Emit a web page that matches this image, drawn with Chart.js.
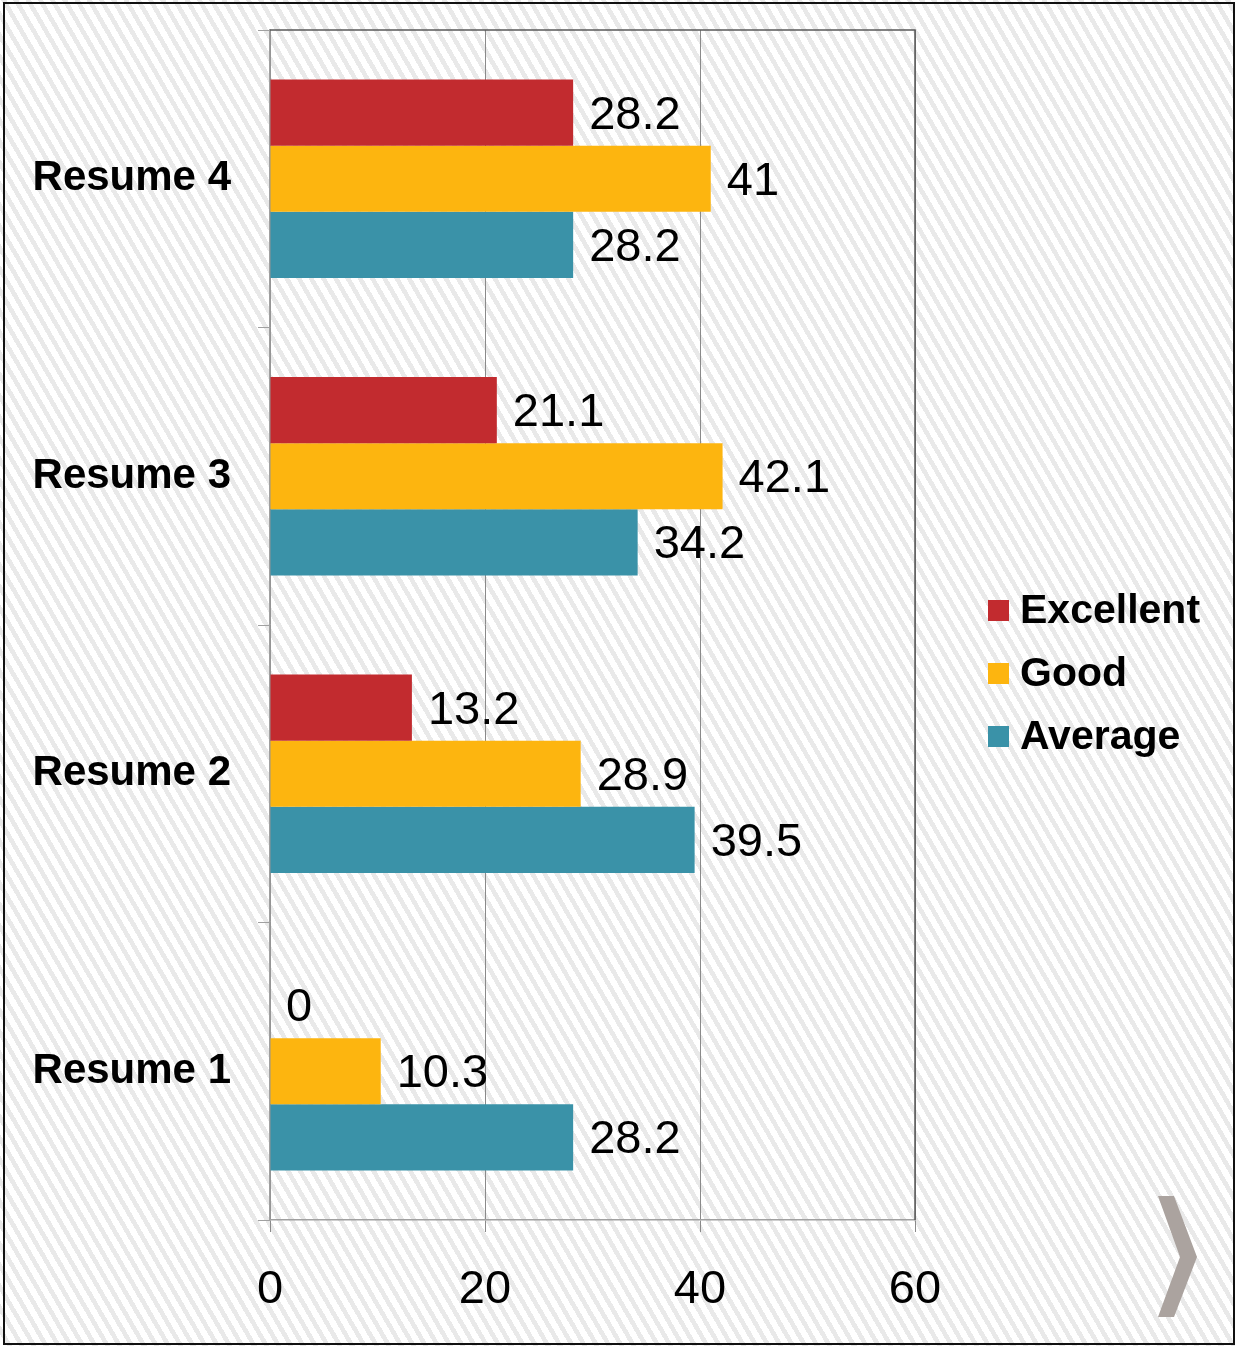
<!DOCTYPE html>
<html>
<head>
<meta charset="utf-8">
<title>Resume ratings</title>
<script src="https://cdn.jsdelivr.net/npm/chart.js@4.4.1/dist/chart.umd.min.js"></script>
<style>
  html, body { margin: 0; padding: 0; }
  body {
    width: 1235px; height: 1346px; overflow: hidden;
    background: repeating-linear-gradient(60deg, #ffffff 0px, #ffffff 6px, #e9e9e9 6px, #e9e9e9 10.6px);
    position: relative;
  }
  #frame {
    position: absolute; left: 3px; top: 2px; width: 1228px; height: 1339px;
    border: 2px solid #111; box-sizing: content-box; pointer-events: none;
  }
  canvas { position: absolute; left: 0; top: 0; }
</style>
</head>
<body>
<canvas id="c" width="1235" height="1346"></canvas>
<div id="frame"></div>
<script>
// Categories listed top to bottom
const categories = ['Resume 4', 'Resume 3', 'Resume 2', 'Resume 1'];
const excellent = [28.2, 21.1, 13.2, 0];
const good = [41, 42.1, 28.9, 10.3];
const average = [28.2, 34.2, 39.5, 28.2];
const seriesNames = ['Excellent', 'Good', 'Average'];
const seriesColors = ['#c22b2f', '#fdb50f', '#3a92a8'];
const xTicks = [0, 20, 40, 60];

const FONT = '"Liberation Sans", Arial, sans-serif';

// Value labels at the end of every bar
const valueLabels = {
  id: 'valueLabels',
  afterDatasetsDraw(chart) {
    const ctx = chart.ctx;
    ctx.save();
    ctx.font = '47px ' + FONT;
    ctx.fillStyle = '#000';
    ctx.textAlign = 'left';
    ctx.textBaseline = 'middle';
    chart.data.datasets.forEach((ds, i) => {
      const meta = chart.getDatasetMeta(i);
      meta.data.forEach((bar, j) => {
        ctx.fillText(String(ds.data[j]), bar.x + 16, bar.y + 3);
      });
    });
    ctx.restore();
  }
};

// Plot frame (top and right edges), legend and the corner chevron
const decorations = {
  id: 'decorations',
  afterDraw(chart) {
    const ctx = chart.ctx;
    const a = chart.chartArea;
    ctx.save();
    ctx.strokeStyle = '#5a5a5a';
    ctx.lineWidth = 1.5;
    ctx.beginPath();
    ctx.moveTo(a.left, a.top);
    ctx.lineTo(a.right, a.top);
    ctx.lineTo(a.right, a.bottom);
    ctx.stroke();

    // legend
    const rowY = [611, 674, 737];
    ctx.font = 'bold 41px ' + FONT;
    ctx.textAlign = 'left';
    ctx.textBaseline = 'middle';
    chart.data.datasets.forEach((ds, i) => {
      ctx.fillStyle = ds.backgroundColor;
      ctx.fillRect(988, rowY[i] - 11, 21, 21);
      ctx.fillStyle = '#000';
      ctx.fillText(ds.label, 1020, rowY[i] + 1);
    });

    // chevron
    ctx.fillStyle = '#aba39f';
    ctx.beginPath();
    ctx.moveTo(1158, 1196);
    ctx.lineTo(1174, 1196);
    ctx.lineTo(1197, 1257);
    ctx.lineTo(1174, 1317);
    ctx.lineTo(1158, 1317);
    ctx.lineTo(1180, 1257);
    ctx.closePath();
    ctx.fill();
    ctx.restore();
  }
};

new Chart(document.getElementById('c'), {
  type: 'bar',
  data: {
    labels: categories,
    datasets: [
      { label: seriesNames[0], data: excellent, backgroundColor: seriesColors[0] },
      { label: seriesNames[1], data: good, backgroundColor: seriesColors[1] },
      { label: seriesNames[2], data: average, backgroundColor: seriesColors[2] }
    ]
  },
  options: {
    indexAxis: 'y',
    responsive: false,
    animation: false,
    devicePixelRatio: 1,
    layout: { padding: { top: 30, right: 320, left: 0, bottom: 0 } },
    datasets: { bar: { categoryPercentage: 0.667, barPercentage: 1.0 } },
    plugins: { legend: { display: false }, tooltip: { enabled: false } },
    scales: {
      x: {
        min: xTicks[0],
        max: xTicks[xTicks.length - 1],
        afterBuildTicks(scale) { scale.ticks = xTicks.map(v => ({ value: v })); },
        afterFit(scale) { scale.height = 126; scale.paddingLeft = 0; scale.paddingRight = 0; },
        grid: { color: '#8a8a8a', lineWidth: 1, tickLength: 12, drawTicks: true },
        border: { display: true, color: '#a0a0a0', width: 1.5 },
        ticks: { color: '#000', font: { family: FONT, size: 47 }, padding: 30 }
      },
      y: {
        afterFit(scale) { scale.width = 270; scale.paddingTop = 0; scale.paddingBottom = 0; },
        grid: { drawOnChartArea: false, color: '#a0a0a0', tickLength: 12, offset: true },
        border: { display: true, color: '#a0a0a0', width: 1.5 },
        ticks: { color: '#000', font: { family: FONT, size: 42, weight: 'bold' }, padding: 27 }
      }
    }
  },
  plugins: [valueLabels, decorations]
});
</script>
</body>
</html>
